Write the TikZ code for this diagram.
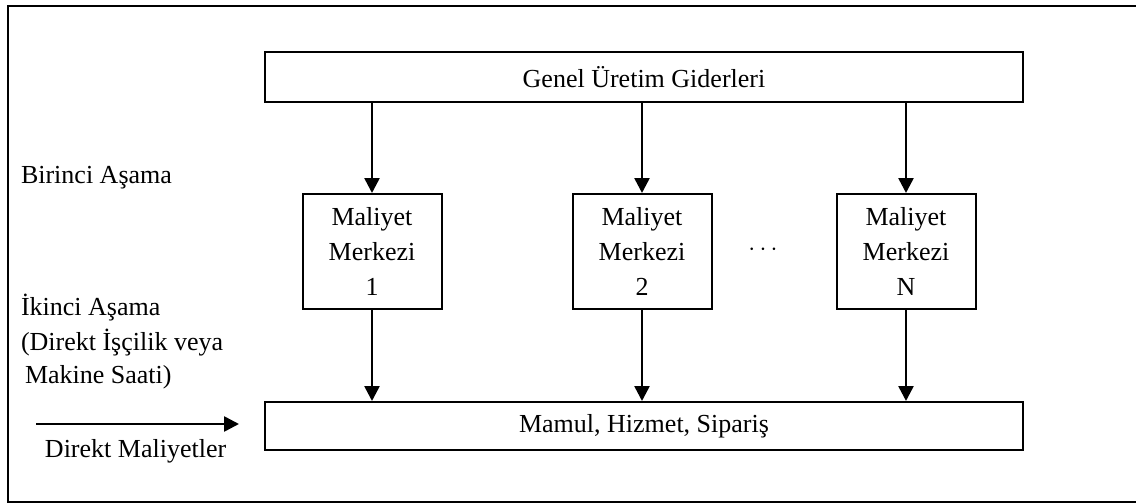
\documentclass[tikz,border=0pt]{standalone}
\usepackage{fontspec}
\setmainfont{Liberation Serif}
\usetikzlibrary{arrows.meta}

\begin{document}
\begin{tikzpicture}[x=1pt, y=-1pt, line width=2pt, font=\fontsize{26}{35}\selectfont,
    arr/.style={-{Triangle[width=15pt, length=15pt]}, line width=2.6pt},
    bigbox/.style={draw, rectangle, inner sep=0pt, minimum width=758pt},
    costbox/.style={draw, rectangle, inner sep=0pt, align=center, minimum width=139pt, minimum height=115pt},
    lbl/.style={anchor=base west, inner sep=0pt}]
    \useasboundingbox (0, 0) rectangle (1136, 503);

    % draw outer frame
    \draw[line width=2.2pt] (1136, 6) -- (8, 6) -- (8, 502) -- (1136, 502);

    % draw top and bottom boxes
    \node[bigbox, minimum height=50pt] (genel) at (644, 77) {Genel Üretim Giderleri};
    \node[bigbox, minimum height=48pt] (mamul) at (644, 426) {Mamul, Hizmet, Sipariş};

    % draw cost centre boxes
    \node[costbox] (m1) at (372, 251.5) {Maliyet\\Merkezi\\1};
    \node[costbox] (m2) at (642, 251.5) {Maliyet\\Merkezi\\2};
    \node[costbox] (mN) at (906, 251.5) {Maliyet\\Merkezi\\N};
    \node (dots) at (763, 250) {$\cdots$};

    % draw arrows
    \foreach \m in {m1, m2, mN} {
        \draw[arr] (genel.south -| \m.north) -- (\m.north);
        \draw[arr] (\m.south) -- (\m.south |- mamul.north);
    }

    % draw stage labels
    \node[lbl] (birinci) at (20, 183) {Birinci Aşama};
    \node[lbl] (ikinci) at (20, 315) {İkinci Aşama};
    \node[lbl] (iscilik) at (20, 350) {(Direkt İşçilik veya};
    \node[lbl] (makine) at (24, 383) {Makine Saati)};

    % draw direct costs arrow
    \coordinate (dstart) at (36, 424);
    \coordinate (dend) at (239, 424);
    \draw[arr] (dstart) -- (dend);
    \node[lbl] (direkt) at (44, 457) {Direkt Maliyetler};
\end{tikzpicture}
\end{document}
